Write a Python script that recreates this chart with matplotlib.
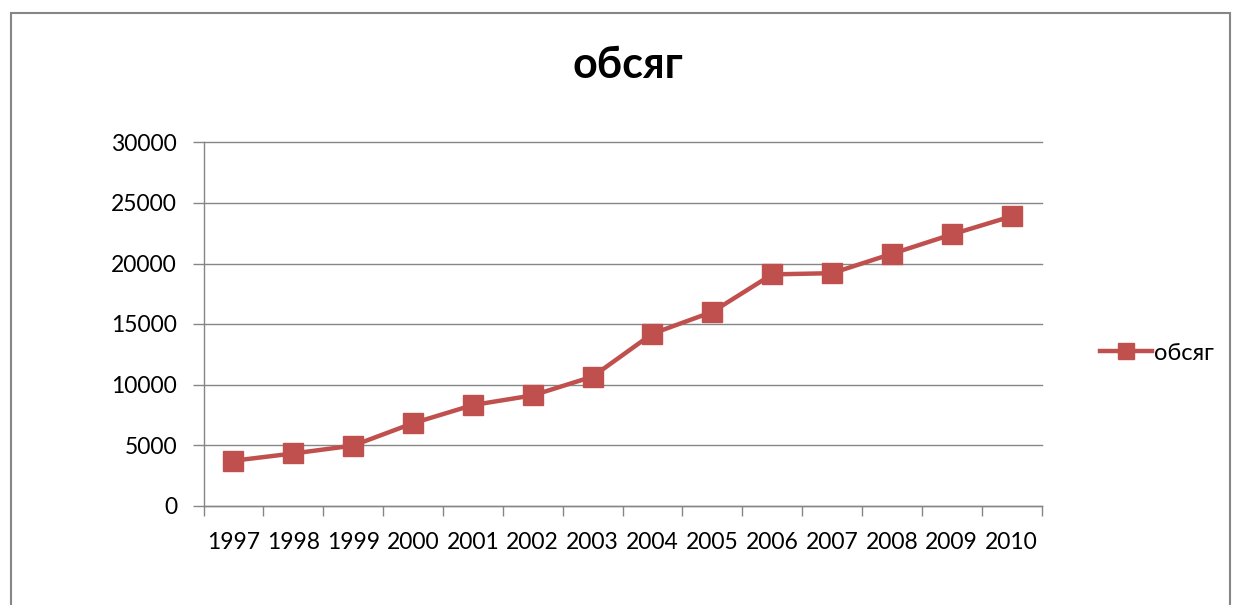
import matplotlib
matplotlib.use("Agg")
import matplotlib.pyplot as plt
from matplotlib.patches import Rectangle
from matplotlib.lines import Line2D

years = ["1997", "1998", "1999", "2000", "2001", "2002", "2003",
         "2004", "2005", "2006", "2007", "2008", "2009", "2010"]
values = [3700, 4300, 4950, 6800, 8300, 9100, 10650,
          14200, 16000, 19100, 19200, 20800, 22400, 23900]
yticks = [0, 5000, 10000, 15000, 20000, 25000, 30000]
series_name = "обсяг"
title = "обсяг"

plt.rcParams['font.family'] = ['Lato', 'DejaVu Sans']

fig = plt.figure(figsize=(12.33, 6.05), dpi=100)
W, H = 1233, 605
ax = fig.add_axes([203.5 / W, 1 - 505.5 / H, (1041.5 - 203.5) / W, (505.5 - 142.5) / H])

color = "#C0504D"
grid_c = "#868686"
x = list(range(len(years)))
ax.plot(x, values, color=color, lw=3.2, marker="s", markersize=14.5,
        markerfacecolor=color, markeredgecolor=color, solid_joinstyle="round")

ax.set_xlim(-0.5, len(years) - 0.5)
ax.set_ylim(0, 30000)
ax.set_yticks(yticks)
ax.set_yticklabels([str(v) for v in yticks], fontsize=16.5, color="#000000")
ax.set_xticks(x)
ax.set_xticklabels(years, fontsize=16.5)
ax.set_xticks([i - 0.5 for i in range(len(years) + 1)], minor=True)
ax.tick_params(axis="x", which="major", length=0, pad=19)
ax.tick_params(axis="x", which="minor", length=7, color=grid_c, width=1, direction="out")
ax.tick_params(axis="y", length=8, color=grid_c, width=1, pad=11)

ax.yaxis.grid(True, color=grid_c, lw=1)
for gl in ax.get_ygridlines():
    gl.set_clip_on(False)
ax.set_axisbelow(True)
for s in ["top", "right"]:
    ax.spines[s].set_visible(False)
for s in ["left", "bottom"]:
    ax.spines[s].set_color(grid_c)
    ax.spines[s].set_linewidth(1)

fig.text(628 / W, 1 - 65 / H, title, fontsize=31, fontweight="bold",
         ha="center", va="center")

# legend
handle = Line2D([0], [0], color=color, lw=3.2, marker="s", markersize=12,
                markerfacecolor=color, markeredgecolor=color)
fig.legend([handle], [series_name], loc="center left",
           bbox_to_anchor=(1088 / W, 1 - 353 / H), frameon=False,
           fontsize=17, handlelength=2.2, handletextpad=0.1, borderpad=0)

# outer border
fig.patches.append(Rectangle((10.5 / W, -0.1), (1230 - 10.5) / W, 1.1 - 12.5 / H,
                             transform=fig.transFigure, fill=False,
                             edgecolor="#868686", lw=1.5))

fig.savefig("out.png", dpi=100)
